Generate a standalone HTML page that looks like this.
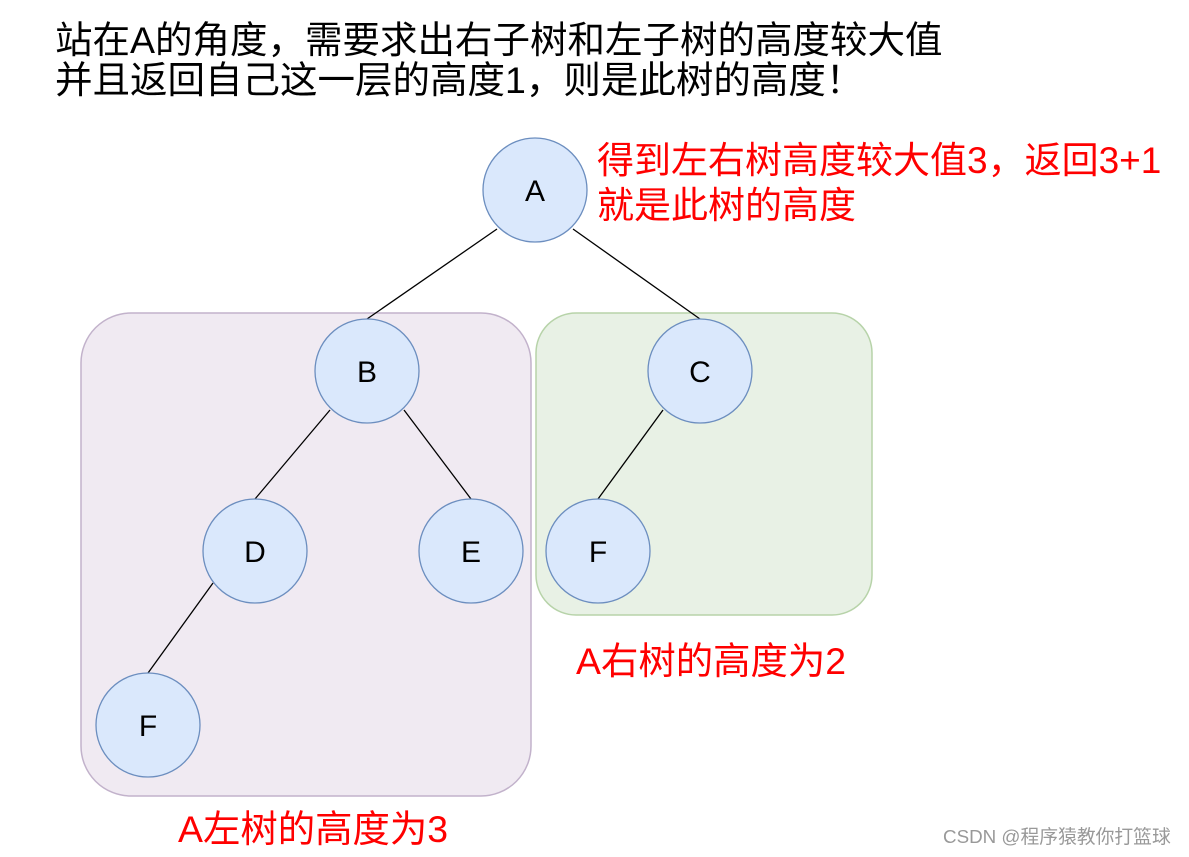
<!DOCTYPE html>
<html><head><meta charset="utf-8"><style>
body{margin:0;background:#fff;width:1189px;height:857px;overflow:hidden;position:relative;font-family:"Liberation Sans","Noto Sans CJK SC",sans-serif}
.t{position:absolute;white-space:nowrap}
</style></head><body>
<svg width="1189" height="857" style="position:absolute;left:0;top:0">
<rect x="81" y="313" width="450" height="483" rx="50" fill="#f0eaf2" stroke="#c2b2cb" stroke-width="1.5"/>
<rect x="536" y="313" width="336" height="302" rx="40" fill="#e8f1e5" stroke="#b7d3a9" stroke-width="1.5"/>
<g stroke="#000" stroke-width="1.3">
<line x1="497" y1="229" x2="367" y2="319"/>
<line x1="573" y1="229" x2="700" y2="319"/>
<line x1="330" y1="410" x2="255" y2="499"/>
<line x1="404" y1="410" x2="471" y2="499"/>
<line x1="663" y1="410" x2="598" y2="499"/>
<line x1="213" y1="583" x2="148" y2="673"/>
</g>
<g fill="#dae8fc" stroke="#6c8ebf" stroke-width="1.3">
<circle cx="535" cy="190" r="52"/>
<circle cx="367" cy="371" r="52"/>
<circle cx="700" cy="371" r="52"/>
<circle cx="255" cy="551" r="52"/>
<circle cx="471" cy="551" r="52"/>
<circle cx="598" cy="551" r="52"/>
<circle cx="148" cy="725" r="52"/>
</g>
<g font-family="Liberation Sans, sans-serif" font-size="30" text-anchor="middle" fill="#000">
<text x="535" y="201">A</text>
<text x="367" y="382">B</text>
<text x="700" y="382">C</text>
<text x="255" y="562">D</text>
<text x="471" y="562">E</text>
<text x="598" y="562">F</text>
<text x="148" y="736">F</text>
</g>
</svg>
<div class="t" style="left:55px;top:20px;font-size:37.5px;line-height:40px;color:#000">站在A的角度，需要求出右子树和左子树的高度较大值<br>并且返回自己这一层的高度1，则是此树的高度！</div>
<div class="t" style="left:597px;top:138px;font-size:37px;line-height:45px;color:#f00">得到左右树高度较大值3，返回3+1<br>就是此树的高度</div>
<div class="t" style="left:576px;top:641px;font-size:37.4px;line-height:40px;color:#f00">A右树的高度为2</div>
<div class="t" style="left:178px;top:809px;font-size:37.4px;line-height:40px;color:#f00">A左树的高度为3</div>
<div class="t" style="left:943px;top:826px;font-size:18.8px;line-height:22px;color:#999">CSDN @程序猿教你打篮球</div>
</body></html>
